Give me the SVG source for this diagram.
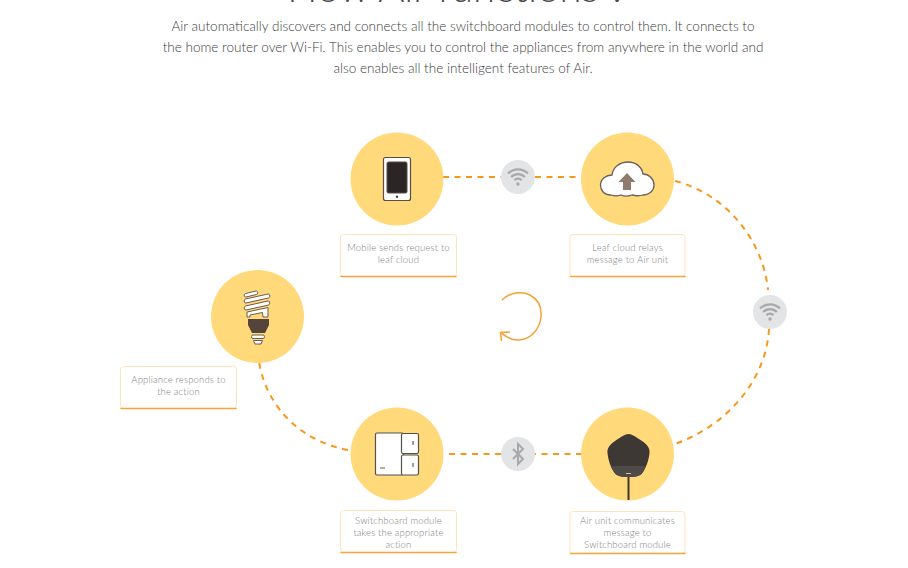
<svg xmlns="http://www.w3.org/2000/svg" width="908" height="568" viewBox="0 0 908 568">
<style>
text{font-family:"Lato","Noto Sans",sans-serif;text-anchor:middle}
.title{font-size:40px;fill:#4a4a4a;font-weight:300}
.p{font-size:13.54px;fill:#3c3c3c;font-weight:300}
.l{font-size:9.5px;fill:#808080;font-weight:300;letter-spacing:.17px}
.c{fill:#ffd97a}
.box{fill:#fff;stroke:#ffe3bd;stroke-width:1}
.under{fill:none;stroke:#f9a438;stroke-width:1.6;stroke-linecap:round}
.dash{fill:none;stroke:#f7971e;stroke-width:2;stroke-dasharray:6 5.5}
.hub{fill:#e3e4e6}
.w{fill:none;stroke:#a8a9ab;stroke-width:2.2}
</style>
<rect width="908" height="568" fill="#fff"/>
<text class="title" x="457" y="1.500">How Air functions ?</text>
<text class="p" x="463" y="31">Air automatically discovers and connects all the switchboard modules to control them. It connects to</text>
<text class="p" x="463" y="52">the home router over Wi-Fi. This enables you to control the appliances from anywhere in the world and</text>
<text class="p" x="463" y="73">also enables all the intelligent features of Air.</text>
<g id="connectors">
<path class="dash" d="M443 177H501"/>
<path class="dash" d="M535 177H581"/>
<path class="dash" d="M675 181C726 194 763 240 768 290"/>
<path class="dash" d="M769 329C766 381 726 427 672 445"/>
<path class="dash" d="M582 454H535"/>
<path class="dash" d="M501 454H447"/>
<path class="dash" d="M348 450C301 441 267 408 259 362"/>
<path fill="none" stroke="#f7a035" stroke-width="1.5" d="M502 300C510 292 522 291 530 295C539 300 542 308 541 317C540 328 532 339 519 340C511 340.500 504 336 501 332"/>
<path fill="none" stroke="#f7a035" stroke-width="1.5" d="M510 332L500.500 332.500L501.500 341"/>
</g>
<g id="hub-wifi-top"><circle class="hub" cx="518" cy="177" r="17"/>
<g transform="translate(518 177)"><path class="w" d="M-10-3.500A14 14 0 0 1 10-3.500M-6.800 0A9.500 9.500 0 0 1 6.800 0M-3.600 3.200A5 5 0 0 1 3.600 3.200"/><circle cy="7" r="1.700" fill="#a8a9ab"/></g></g>
<g id="hub-wifi-right"><circle class="hub" cx="770" cy="312" r="17"/>
<g transform="translate(770 312)"><path class="w" d="M-10-3.500A14 14 0 0 1 10-3.500M-6.800 0A9.500 9.500 0 0 1 6.800 0M-3.600 3.200A5 5 0 0 1 3.600 3.200"/><circle cy="7" r="1.700" fill="#a8a9ab"/></g></g>
<g id="hub-bluetooth"><circle class="hub" cx="518" cy="454" r="17"/>
<path fill="none" stroke="#a8a9ab" stroke-width="2" d="M513 449L523 459L518 464V444L523 449L513 459"/></g>
<g id="node-mobile"><circle class="c" cx="397" cy="179" r="46.500"/>
<rect x="383.500" y="157.500" width="27" height="43" rx="2" fill="#fff" stroke="#5a4f48" stroke-width="1.200"/>
<rect x="387" y="162" width="20" height="31" rx="1.500" fill="#2b2526" stroke="#5a4f48"/>
<circle cx="397" cy="196.800" r="1.200" fill="#4a403a"/>
</g>
<g id="label-mobile"><rect class="box" x="340.500" y="234.500" width="116" height="42" rx="3"/><path class="under" d="M341 276.500H456"/>
<text class="l" x="398.500" y="251">Mobile sends request to</text><text class="l" x="398.500" y="263">leaf cloud</text></g>
<g id="node-cloud"><circle class="c" cx="627.500" cy="179" r="46.500"/>
<path fill="#fff" stroke="#6a615a" stroke-width="1.300" d="M611 195C603 195 600.500 189 600.500 185C600.500 179 606 175 612 175C613 167 620 162 628 162C636 162 642 167 643 174C649 174 654 179 654 185C654 191 649 195 643 195C638 196.500 634 195.500 632 195C628 196.500 624 196.500 621 195C618 196 614 196 611 195Z"/>
<path fill="#8f7b70" d="M627 173L635.500 182H631V190H623V182H618.500Z"/></g>
<g id="label-cloud"><rect class="box" x="570" y="234.500" width="115" height="42" rx="3"/><path class="under" d="M570.500 276.500H685"/>
<text class="l" x="627.500" y="251">Leaf cloud relays</text><text class="l" x="627.500" y="263">message to Air unit</text></g>
<g id="node-bulb"><circle class="c" cx="257.500" cy="316.500" r="46.500"/>
<g fill="#fff" stroke="#6b5b50" stroke-width="1">
<path d="M245.500 293.500L256 291C258 290.500 258.500 294 256.500 294.500L246 297C244 297.500 243.500 294 245.500 293.500Z"/>
<path d="M245.500 299L268 294C270 293.500 270.500 297.500 268.500 298L246 303C244 303.500 243.500 299.500 245.500 299Z"/>
<path d="M245.500 306L268 301C270 300.500 270.500 304.500 268.500 305L246 310C244 310.500 243.500 306.500 245.500 306Z"/>
<path d="M247 312L268 307.500V317H263L262.500 312.500L250 315V317H247Z"/>
<rect x="251.500" y="335" width="13" height="3.500" rx="1.500"/>
<path d="M253.500 340.500H262.500L261 344H255Z"/>
</g>
<path fill="#54443b" d="M248 319H269V325L265 333H252L248 325Z"/></g>
<g id="label-bulb"><rect class="box" x="120.500" y="366.500" width="116" height="42" rx="3"/><path class="under" d="M121 408.500H236"/>
<text class="l" x="178.500" y="383">Appliance responds to</text><text class="l" x="178.500" y="395">the action</text></g>
<g id="node-switch"><circle class="c" cx="397" cy="454" r="46.500"/>
<rect x="375.500" y="433" width="28" height="42" rx="1.500" fill="#fff" stroke="#55504c" stroke-width="1.200"/>
<rect x="401.500" y="433.500" width="17" height="20" rx="1.500" fill="#fff" stroke="#55504c" stroke-width="1.200"/>
<rect x="401.500" y="455" width="17" height="20" rx="1.500" fill="#fff" stroke="#55504c" stroke-width="1.200"/>
<path stroke="#6b5b50" stroke-width="1.200" d="M380 468H385M413 441V445M413 463V467"/></g>
<g id="label-switch"><rect class="box" x="340.500" y="510.500" width="116" height="42" rx="3"/><path class="under" d="M341 552.500H456"/>
<text class="l" x="398.500" y="524">Switchboard module</text><text class="l" x="398.500" y="536">takes the appropriate</text><text class="l" x="398.500" y="548">action</text></g>
<g id="node-air"><circle class="c" cx="627.500" cy="454" r="46.500"/>
<rect x="627.500" y="475" width="2" height="25" fill="#3e3835"/>
<path fill="#3e3835" d="M628.500 434C632 434 636 437 642 441C648 445 650 449 649.500 453C649 459 646.500 467 643 472C641 476 636 477 628.500 477C621 477 616 476 614 472C610.500 467 608 459 607.500 453C607 449 609 445 615 441C621 437 625 434 628.500 434Z"/>
<path fill="#4d4a49" d="M610.500 466H646L643 472C641 476 636 477 628.500 477C621 477 616 476 614 472Z"/>
<path stroke="#e8c27a" d="M626 473.500H631"/></g>
<g id="label-air"><rect class="box" x="570" y="511.500" width="115" height="42" rx="3"/><path class="under" d="M570.500 553.500H685"/>
<text class="l" x="627.500" y="524">Air unit communicates</text><text class="l" x="627.500" y="536">message to</text><text class="l" x="627.500" y="548">Switchboard module</text></g>
</svg>
